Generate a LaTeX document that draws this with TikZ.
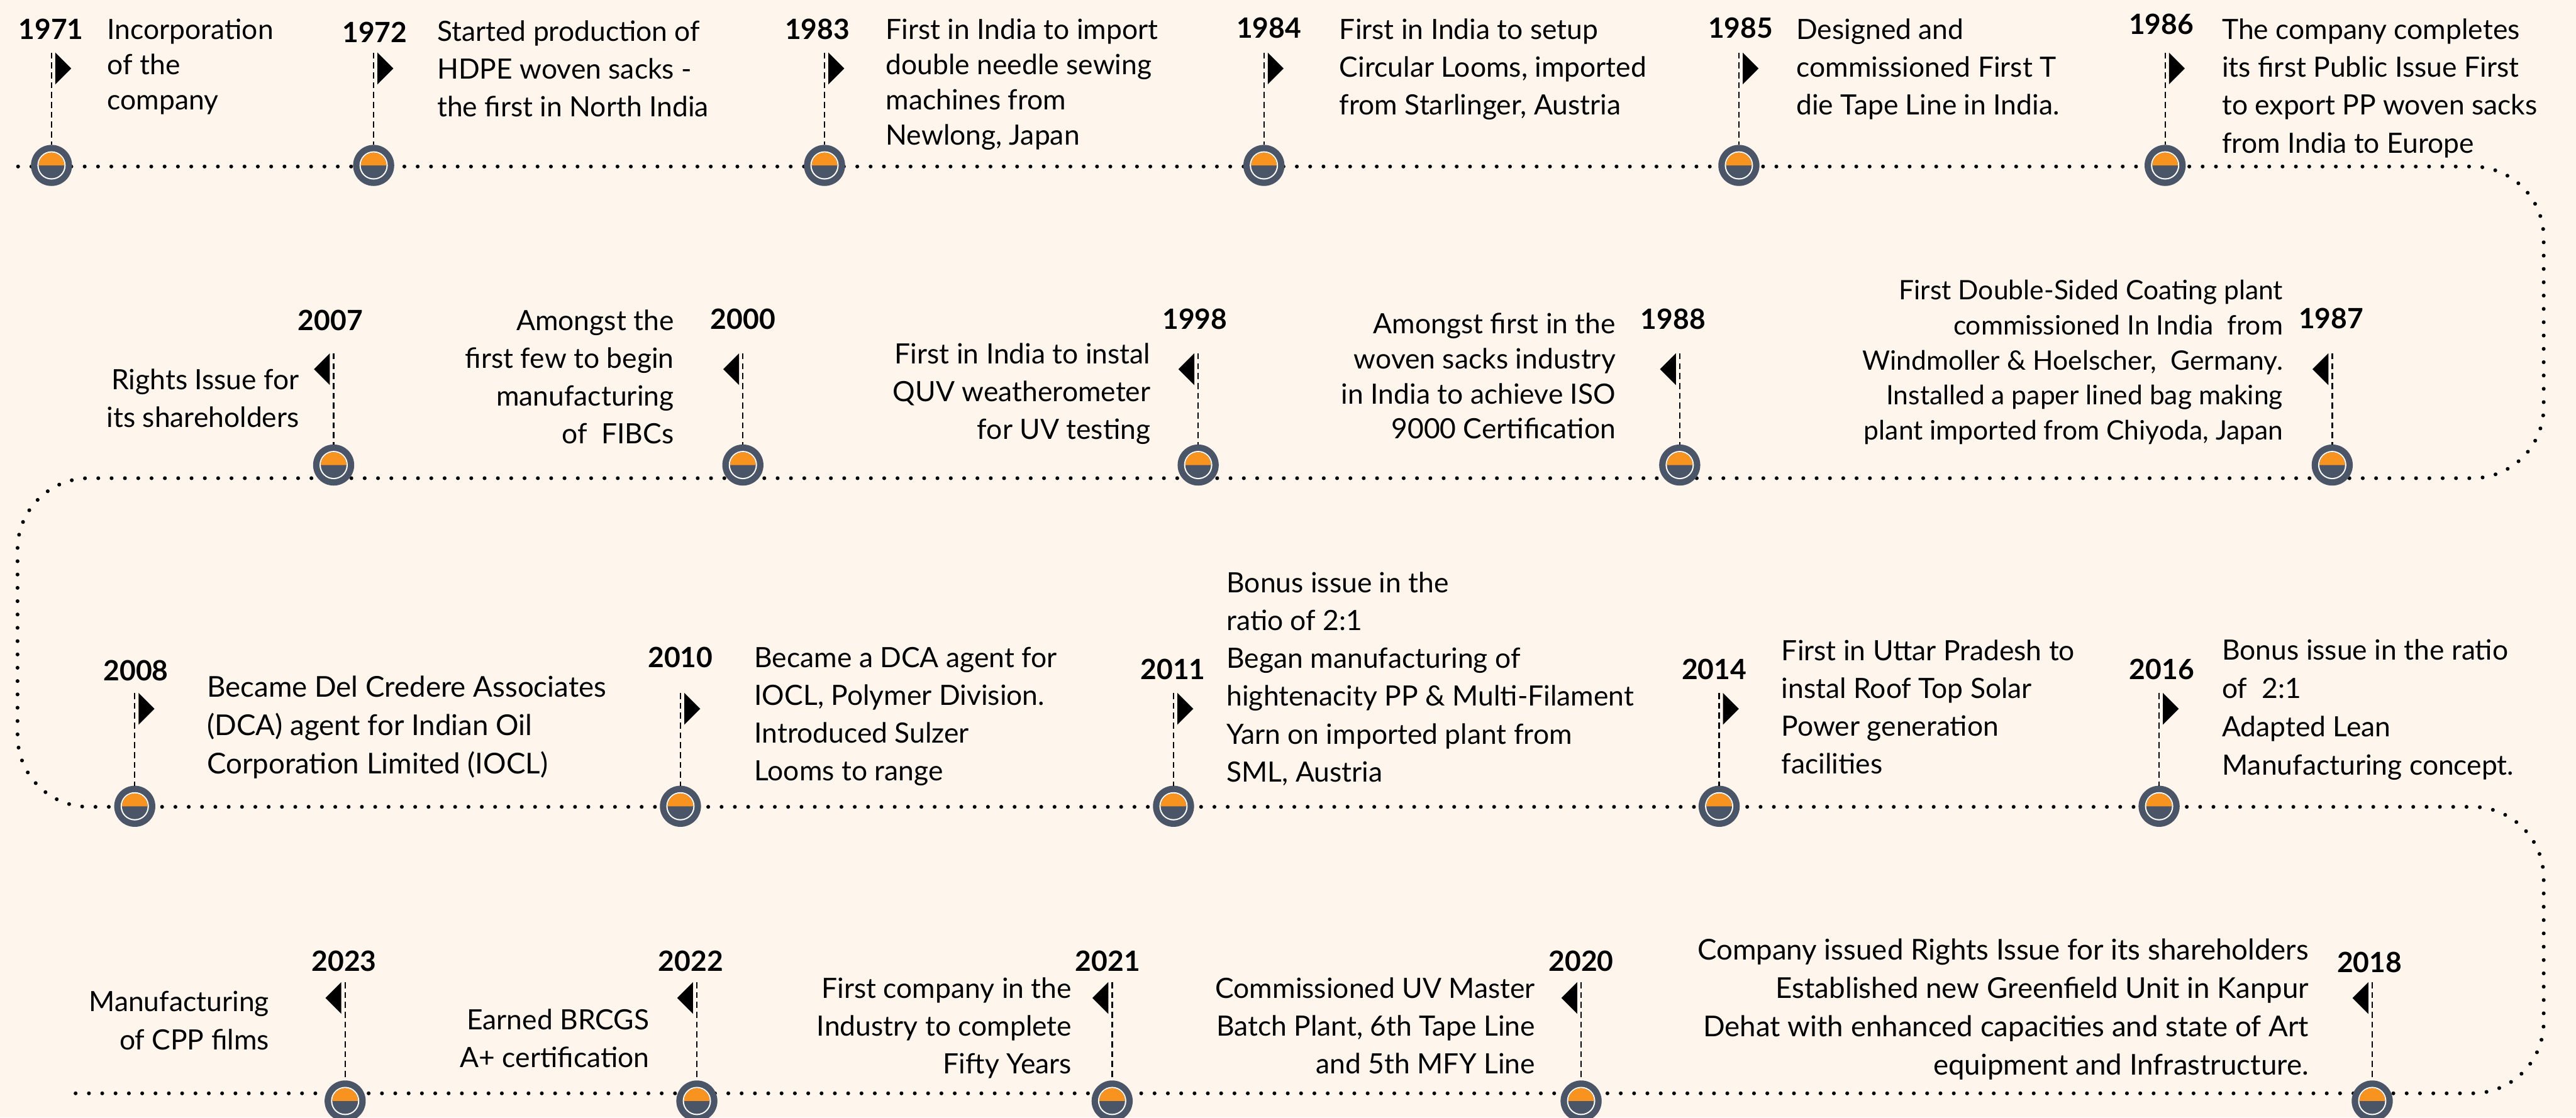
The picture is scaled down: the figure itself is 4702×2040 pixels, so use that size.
\documentclass[tikz,border=0pt]{standalone}
\usepackage{fontspec}
\setmainfont{Lato}
\definecolor{bg}{HTML}{FEF5EC}
\definecolor{orng}{HTML}{F7931E}
\definecolor{slate}{HTML}{4B5568}
\newcommand\lblk[2]{\vtop{\baselineskip=#1\lineskiplimit=-20pt\halign{##\hfil\cr#2\crcr}}}
\newcommand\rblk[2]{\vtop{\baselineskip=#1\lineskiplimit=-20pt\halign{\hfil##\cr#2\crcr}}}
\tikzset{
  dotline/.style={line width=0.07cm, line cap=round, dash pattern=on 0pt off 0.243cm},
  stem/.style={line width=0.027cm, dash pattern=on 0.11cm off 0.07cm},
  marker/.style={circle, fill=slate, minimum size=0.75cm, inner sep=0pt, outer sep=0pt},
  yr/.style={font=\bfseries\fontsize{14.5pt}{17pt}\selectfont, inner sep=0pt, outer sep=0pt, anchor=base},
  txl/.style={font=\fontsize{14.5pt}{19pt}\selectfont, inner sep=0pt, outer sep=0pt, anchor=base west},
  txr/.style={font=\fontsize{14.5pt}{19pt}\selectfont, inner sep=0pt, outer sep=0pt, anchor=base east},
  big/.style={font=\fontsize{14.9pt}{19pt}\selectfont},
  small/.style={font=\fontsize{13.9pt}{19pt}\selectfont},
}
% #1 id, #2 x, #3 marker y, #4 flag top y, #5 direction (1 right, -1 left)
\newcommand\evt[5]{%
  \node[marker] (m#1) at (#2,#3) {};
  \fill[white] (m#1.center) circle[radius=0.258cm];
  \fill[slate] (m#1.center) circle[radius=0.234cm];
  \fill[orng] (m#1.center) ++(0.234cm,0) arc[start angle=0,end angle=180,radius=0.234cm] -- cycle;
  \coordinate (s#1) at (#2,#4);
  \draw[stem] (s#1) -- (m#1.north);
  \fill[shift={(s#1)}] (#5*7,0) -- (#5*36,29) -- (#5*7,58) -- cycle;
}
\begin{document}
\begin{tikzpicture}[x=0.01cm,y=-0.01cm]
\useasboundingbox (0,0) rectangle (4702,2040);
\fill[bg] (0,0) rectangle (4702,2040);
% dotted timeline
\coordinate (p0) at (33,304);
\coordinate (p1) at (4643,304);
\coordinate (p2) at (4643,873);
\coordinate (p3) at (32,873);
\coordinate (p4) at (32,1473);
\coordinate (p5) at (4643,1473);
\coordinate (p6) at (4643,1996);
\coordinate (p7) at (131,1996);
\draw[dotline, rounded corners=1.3cm] (p0) -- (p1) -- (p2) -- (p3) -- (p4) -- (p5) -- (p6) -- (p7);
% row 1
\evt{1971}{94}{302}{96}{1}
\evt{1972}{682}{302}{96}{1}
\evt{1983}{1505}{302}{96}{1}
\evt{1984}{2307}{302}{96}{1}
\evt{1985}{3174}{302}{96}{1}
\evt{1986}{3952}{302}{96}{1}
% row 2
\evt{1987}{4257}{849}{645}{-1}
\evt{1988}{3066}{849}{645}{-1}
\evt{1998}{2187}{849}{645}{-1}
\evt{2000}{1356}{849}{645}{-1}
\evt{2007}{609}{849}{645}{-1}
% row 3
\evt{2008}{246}{1472}{1265}{1}
\evt{2010}{1242}{1472}{1265}{1}
\evt{2011}{2142}{1472}{1265}{1}
\evt{2014}{3138}{1472}{1265}{1}
\evt{2016}{3941}{1472}{1265}{1}
% row 4
\evt{2018}{4330}{2010}{1793}{-1}
\evt{2020}{2886}{2010}{1793}{-1}
\evt{2021}{2030}{2010}{1793}{-1}
\evt{2022}{1272}{2010}{1793}{-1}
\evt{2023}{630}{2010}{1793}{-1}
% years
\node[yr] (y1971) at (93,72) {1971};
\node[yr] (y1972) at (684,77) {1972};
\node[yr] (y1983) at (1492,72) {1983};
\node[yr] (y1984) at (2316,70) {1984};
\node[yr] (y1985) at (3177,70) {1985};
\node[yr] (y1986) at (3945,63) {1986};
\node[yr] (y1987) at (4255,600) {1987};
\node[yr] (y1988) at (3054,601) {1988};
\node[yr] (y1998) at (2181,601) {1998};
\node[yr] (y2000) at (1356,601) {2000};
\node[yr] (y2007) at (603,603) {2007};
\node[yr] (y2008) at (248,1243) {2008};
\node[yr] (y2010) at (1242,1219) {2010};
\node[yr] (y2011) at (2141,1240) {2011};
\node[yr] (y2014) at (3129,1240) {2014};
\node[yr] (y2016) at (3946,1240) {2016};
\node[yr] (y2018) at (4325,1775) {2018};
\node[yr] (y2020) at (2886,1773) {2020};
\node[yr] (y2021) at (2022,1773) {2021};
\node[yr] (y2022) at (1261,1773) {2022};
\node[yr] (y2023) at (628,1773) {2023};
% texts row 1
\node[txl] (t1971) at (196,72) {\lblk{0.64cm}{Incorporation\cr of the\cr company}};
\node[txl] (t1972) at (798,75) {\lblk{0.69cm}{Started production of\cr HDPE woven sacks -\cr the first in North India}};
\node[txl] (t1983) at (1617,72) {\lblk{0.64cm}{First in India to import\cr double needle sewing\cr machines from\cr Newlong, Japan}};
\node[txl] (t1984) at (2445,72) {\lblk{0.69cm}{First in India to setup\cr Circular Looms, imported\cr from Starlinger, Austria}};
\node[txl] (t1985) at (3279,72) {\lblk{0.69cm}{Designed and\cr commissioned First T\cr die Tape Line in India.}};
\node[txl] (t1986) at (4056,72) {\lblk{0.69cm}{The company completes\cr its first Public Issue First\cr to export PP woven sacks\cr from India to Europe}};
% texts row 2
\node[txr, small] (t1987) at (4167,547) {\rblk{0.64cm}{First Double-Sided Coating plant\cr commissioned In India\ \ from\cr Windmoller \& Hoelscher,\ \ Germany.\cr Installed a paper lined bag making\cr plant imported from Chiyoda, Japan}};
\node[txr] (t1988) at (2949,609) {\rblk{0.64cm}{Amongst first in the\cr woven sacks industry\cr in India to achieve ISO\cr 9000 Certification}};
\node[txr] (t1998) at (2100,664) {\rblk{0.69cm}{First in India to instal\cr QUV weatherometer\cr for UV testing}};
\node[txr] (t2000) at (1230,603) {\rblk{0.69cm}{Amongst the\cr first few to begin\cr manufacturing\cr of\ \ FIBCs}};
\node[txr] (t2007) at (546,711) {\rblk{0.69cm}{Rights Issue for\cr its shareholders}};
% texts row 3
\node[txl, big] (t2008) at (378,1273) {\lblk{0.70cm}{Became Del Credere Associates\cr (DCA) agent for Indian Oil\cr Corporation Limited (IOCL)}};
\node[txl] (t2010) at (1377,1218) {\lblk{0.69cm}{Became a DCA agent for\cr IOCL, Polymer Division.\cr Introduced Sulzer\cr Looms to range}};
\node[txl] (t2011) at (2239,1082) {\lblk{0.69cm}{Bonus issue in the\cr ratio of 2:1\cr Began manufacturing of\cr hightenacity PP \& Multi-Filament\cr Yarn on imported plant from\cr SML, Austria}};
\node[txl] (t2014) at (3252,1206) {\lblk{0.69cm}{First in Uttar Pradesh to\cr instal Roof Top Solar\cr Power generation\cr facilities}};
\node[txl] (t2016) at (4056,1205) {\lblk{0.70cm}{Bonus issue in the ratio\cr of\ \ 2:1\cr Adapted Lean\cr Manufacturing concept.}};
% texts row 4
\node[txr, big] (t2018) at (4214,1752) {\rblk{0.70cm}{Company issued Rights Issue for its shareholders\cr Established new Greenfield Unit in Kanpur\cr Dehat with enhanced capacities and state of Art\cr equipment and Infrastructure.}};
\node[txr] (t2020) at (2802,1822) {\rblk{0.69cm}{Commissioned UV Master\cr Batch Plant, 6th Tape Line\cr and 5th MFY Line}};
\node[txr] (t2021) at (1956,1822) {\rblk{0.69cm}{First company in the\cr Industry to complete\cr Fifty Years}};
\node[txr] (t2022) at (1185,1880) {\rblk{0.69cm}{Earned BRCGS\cr A+ certification}};
\node[txr] (t2023) at (491,1847) {\rblk{0.69cm}{Manufacturing\cr of CPP films}};
\end{tikzpicture}
\end{document}
